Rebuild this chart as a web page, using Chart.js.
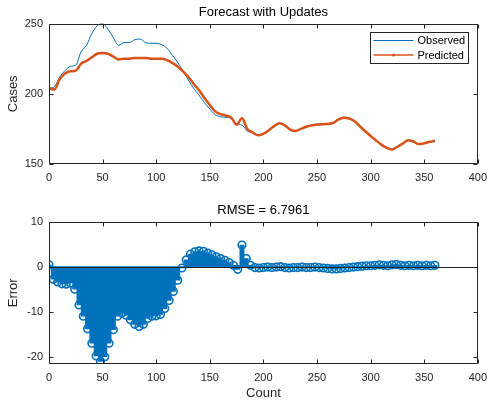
<!DOCTYPE html>
<html lang="en">
<head>
<meta charset="UTF-8">
<title>Forecast with Updates</title>
<script src="https://cdn.jsdelivr.net/npm/chart.js"></script>
<style>
  body { margin: 0; background: #fff; }
  .wrap { position: absolute; left: 0; width: 494px; }
  #top { top: 0; height: 190px; }
  #bottom { top: 190px; height: 211px; }
</style>
</head>
<body>
<div class="wrap" id="top"><canvas id="forecastChart"></canvas></div>
<div class="wrap" id="bottom"><canvas id="errorChart"></canvas></div>
<script>
// counts 0..360, one value every 5
const countStep = 5;
const observed = [
  204, 205, 212, 216.5, 219.5, 220.5, 230, 234.5, 243, 248.5,
  250, 246, 240, 234.5, 236.5, 236.5, 238.5, 239, 236.5, 236,
  236, 235, 232.5, 227.5, 222.5, 216.3, 209.8, 203.8, 199, 193.7,
  189.1, 185.2, 183.7, 183.2, 182.4, 178.6, 177.7, 173.5, 172.3, 170.8,
  171.7, 174.1, 177.2, 179.1, 177.7, 174.8, 173.7, 175.1, 176.7, 177.7,
  178.3, 178.7, 178.8, 179.5, 182, 183.3, 182.7, 180.6, 177, 173.3,
  169.8, 166.7, 163.6, 161.3, 160.1, 162, 164.2, 166.7, 165.8, 163.9,
  164.6, 165.5, 166.2
];
const predicted = [
  204, 203, 210.5, 214.5, 216, 216.5, 221.5, 223.5, 226, 228.5,
  229, 228.5, 226.5, 224.5, 225, 225, 225.5, 225.5, 225.5, 225,
  225, 225, 224, 222, 219.5, 216, 212, 207, 202.5, 197,
  192, 187.5, 185.5, 184.5, 183, 178, 182.5, 175, 172.5, 170.5,
  171.5, 174, 177, 179, 177.5, 174.5, 173.5, 175, 176.5, 177.5,
  178.1, 178.4, 178.5, 179.2, 181.7, 183, 182.4, 180.4, 176.9, 173.3,
  169.9, 166.8, 163.8, 161.5, 160.4, 162.3, 164.5, 167, 166, 164.2,
  164.8, 165.8, 166.5
];

// error stems, one every 4 counts
const errStep = 4;
const errors = [
  0.4, -2.8, -3.4, -3.8, -3.9, -3.6, -5, -8.5, -11, -13.8,
  -17, -19.8, -21, -20, -17, -14, -11, -10.3, -10.8, -11.8,
  -12.8, -13.3, -12.8, -11.5, -11, -10.9, -10.6, -9.3, -7.5, -5.5,
  -3, -0.3, 1.5, 2.8, 3.3, 3.5, 3.4, 3, 2.6, 2.2,
  1.8, 1.4, 0.9, 0.3, -0.6, 4.8, 1.8, 0.3, -0.2, -0.3,
  -0.2, -0.1, -0.2, -0.1, 0, -0.2, -0.3, -0.2, -0.2, -0.1,
  -0.2, -0.2, -0.1, -0.2, -0.3, -0.4, -0.5, -0.5, -0.4, -0.3,
  -0.2, -0.1, 0, 0.1, 0.2, 0.2, 0.3, 0.4, 0.3, 0.2,
  0.4, 0.5, 0.3, 0.2, 0.3, 0.2, 0.3, 0.2, 0.3, 0.2,
  0.3
];
const errorTicks = [-20, -10, 0, 10];
const rmseText = 'RMSE = 6.7961';

const blue = '#0072BD';
const orange = '#D95319';
const axisGray = '#262626';

Chart.defaults.font.family = '"Liberation Sans", Arial, Helvetica, sans-serif';
Chart.defaults.color = axisGray;

const toPoints = (arr, step) => arr.map((v, i) => ({ x: i * step, y: v }));

// box around the axes, inward ticks, optional zero line
const matlabAxes = {
  id: 'matlabAxes',
  afterDatasetsDraw(chart, args, opts) {
    const { ctx, chartArea: a, scales: { x, y } } = chart;
    const L = Math.round(a.left) + 0.5, R = Math.round(a.right) - 0.5;
    const T = Math.round(a.top) + 0.5, B = Math.round(a.bottom) - 0.5;
    ctx.save();
    ctx.strokeStyle = axisGray;
    ctx.lineWidth = 1;
    ctx.beginPath();
    if (opts.baseline) {
      const y0 = Math.round(y.getPixelForValue(0)) + 0.5;
      ctx.moveTo(L, y0); ctx.lineTo(R, y0);
    }
    ctx.rect(L, T, R - L, B - T);
    x.ticks.forEach(t => {
      const px = Math.round(x.getPixelForValue(t.value)) + 0.5;
      ctx.moveTo(px, B); ctx.lineTo(px, B - 4);
      ctx.moveTo(px, T); ctx.lineTo(px, T + 4);
    });
    y.ticks.forEach(t => {
      const py = Math.round(y.getPixelForValue(t.value)) + 0.5;
      ctx.moveTo(L, py); ctx.lineTo(L + 4, py);
      ctx.moveTo(R, py); ctx.lineTo(R - 4, py);
    });
    ctx.stroke();
    ctx.restore();
  }
};

// legend box in the upper right corner of the axes
const boxLegend = {
  id: 'boxLegend',
  afterDraw(chart) {
    const { ctx, chartArea: a } = chart;
    const w = 98, h = 31;
    const left = Math.round(a.right - 10 - w) + 0.5, top = Math.round(a.top + 8) + 0.5;
    ctx.save();
    ctx.fillStyle = '#fff';
    ctx.fillRect(left, top, w, h);
    ctx.strokeStyle = axisGray;
    ctx.lineWidth = 1;
    ctx.strokeRect(left, top, w, h);
    ctx.font = '11px "Liberation Sans", Arial, sans-serif';
    ctx.textBaseline = 'middle';
    chart.data.datasets.forEach((ds, i) => {
      const cy = top + 8 + i * 14.5;
      ctx.strokeStyle = ds.borderColor;
      ctx.lineWidth = i === 0 ? 1 : 1.5;
      ctx.beginPath();
      ctx.moveTo(left + 3, cy); ctx.lineTo(left + 43, cy);
      ctx.stroke();
      if (i === 1) {
        ctx.fillStyle = ds.borderColor;
        ctx.beginPath(); ctx.arc(left + 23, cy, 1.5, 0, Math.PI * 2); ctx.fill();
      }
      ctx.fillStyle = '#000';
      ctx.fillText(ds.label, left + 47, cy + 0.5);
    });
    ctx.restore();
  }
};

const tickFont = { size: 11 };
const labelFont = { size: 13 };

new Chart(document.getElementById('forecastChart'), {
  type: 'line',
  data: {
    datasets: [
      {
        label: 'Observed',
        data: toPoints(observed, countStep),
        borderColor: blue,
        borderWidth: 1,
        pointRadius: 0,
        cubicInterpolationMode: 'monotone',
        order: 1
      },
      {
        label: 'Predicted',
        data: toPoints(predicted, countStep),
        borderColor: orange,
        borderWidth: 2.5,
        pointRadius: 0,
        cubicInterpolationMode: 'monotone',
        order: 0
      }
    ]
  },
  options: {
    responsive: true,
    maintainAspectRatio: false,
    animation: false,
    layout: { padding: { left: 0, right: 12, top: 0, bottom: 0 } },
    plugins: {
      legend: { display: false },
      tooltip: { enabled: false },
      title: {
        display: true, text: 'Forecast with Updates', fullSize: false,
        color: '#000', font: { size: 13, weight: 'normal' }, padding: { top: 5, bottom: 3 }
      }
    },
    scales: {
      x: {
        type: 'linear', min: 0, max: 400,
        ticks: { stepSize: 50, font: tickFont, padding: 7, maxRotation: 0 },
        grid: { display: false, drawTicks: false },
        border: { display: false },
        afterFit(s) { s.height = 26; }
      },
      y: {
        min: 150, max: 250,
        ticks: { stepSize: 50, font: tickFont, padding: 6 },
        grid: { display: false, drawTicks: false },
        border: { display: false },
        title: { display: true, text: 'Cases', font: labelFont, padding: { top: 6, bottom: 0 } },
        afterFit(s) { s.width = 49; }
      }
    }
  },
  plugins: [matlabAxes, boxLegend]
});

new Chart(document.getElementById('errorChart'), {
  type: 'bar',
  data: {
    datasets: [
      {
        type: 'line',
        label: 'Error markers',
        data: toPoints(errors, errStep),
        showLine: false,
        pointStyle: 'circle',
        pointRadius: 3.8,
        pointBorderWidth: 1.6,
        pointBorderColor: blue,
        pointBackgroundColor: 'rgba(255,255,255,0)',
        order: 0
      },
      {
        type: 'bar',
        label: 'Error',
        data: toPoints(errors, errStep),
        backgroundColor: blue,
        borderWidth: 0,
        barPercentage: 1,
        categoryPercentage: 1,
        order: 1
      }
    ]
  },
  options: {
    responsive: true,
    maintainAspectRatio: false,
    animation: false,
    layout: { padding: { left: 0, right: 12, top: 0, bottom: 0 } },
    plugins: {
      legend: { display: false },
      tooltip: { enabled: false },
      title: {
        display: true, text: rmseText, fullSize: false,
        color: '#000', font: { size: 13, weight: 'normal' }, padding: { top: 13, bottom: 3 }
      },
      matlabAxes: { baseline: true }
    },
    scales: {
      x: {
        type: 'linear', min: 0, max: 400, offset: false,
        ticks: { stepSize: 50, font: tickFont, padding: 7, maxRotation: 0 },
        grid: { display: false, drawTicks: false },
        border: { display: false },
        title: { display: true, text: 'Count', font: labelFont, padding: { top: 0, bottom: 0 } },
        afterFit(s) { s.height = 37; }
      },
      y: {
        min: -21.6, max: 10,
        ticks: { font: tickFont, padding: 6 },
        afterBuildTicks(s) { s.ticks = errorTicks.map(v => ({ value: v })); },
        grid: { display: false, drawTicks: false },
        border: { display: false },
        title: { display: true, text: 'Error', font: labelFont, padding: { top: 6, bottom: 0 } },
        afterFit(s) { s.width = 49; }
      }
    }
  },
  plugins: [matlabAxes]
});
</script>
</body>
</html>
